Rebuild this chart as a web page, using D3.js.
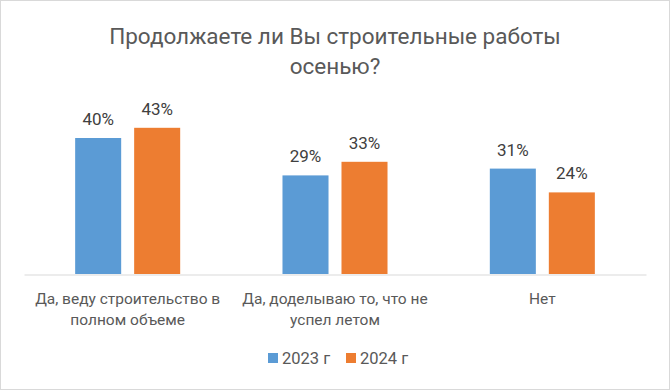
<!DOCTYPE html>
<html><head><meta charset="utf-8">
<script src="https://cdn.jsdelivr.net/npm/d3@7"></script>
<style>html,body{margin:0;padding:0;background:#fff;}svg{display:block;font-family:Roboto,"Open Sans",sans-serif;}</style>
</head><body><svg id="c" width="670" height="390"></svg>
<script>
const categories = ["Да, веду строительство в полном объеме", "Да, доделываю то, что не успел летом", "Нет"];
const categoryLines = [["Да, веду строительство в", "полном объеме"], ["Да, доделываю то, что не", "успел летом"], ["Нет"]];
const series = ["2023 г", "2024 г"];
const values2023 = [0.40, 0.29, 0.31];
const values2024 = [0.43, 0.33, 0.24];
const titleLines = ["Продолжаете ли Вы строительные работы", "осенью?"];
const colors = ["#5B9BD5", "#ED7D31"];

const svg = d3.select("#c");
svg.append("rect").attr("x",0.5).attr("y",0.5).attr("width",669).attr("height",389)
  .attr("fill","#fff").attr("stroke","#D9D9D9").attr("stroke-width",1);

const x0 = d3.scaleBand().domain(categories).range([24, 646]).paddingInner(0).paddingOuter(0);
const x1 = d3.scaleBand().domain(series).range([0, x0.bandwidth()]).paddingInner(0.22).paddingOuter(0.867);
const y = d3.scaleLinear().domain([0, 0.5]).range([274, 104]);
const vals = [values2023, values2024];

const g = svg.append("g");
series.forEach((s, si) => {
  g.selectAll(".b"+si).data(categories).enter().append("rect")
    .attr("x", d => x0(d) + x1(s))
    .attr("y", (d,i) => y(vals[si][i]))
    .attr("width", x1.bandwidth())
    .attr("height", (d,i) => y(0) - y(vals[si][i]))
    .attr("fill", colors[si]);
  g.selectAll(".l"+si).data(categories).enter().append("text")
    .attr("x", d => x0(d) + x1(s) + x1.bandwidth()/2)
    .attr("y", (d,i) => y(vals[si][i]) - 13)
    .attr("text-anchor","middle").attr("fill","#404040").attr("font-size",17)
    .text((d,i) => Math.round(vals[si][i]*100) + "%");
});

// axis baseline
const xAxis = d3.axisBottom(x0).tickSize(0).tickFormat("");
const ax = svg.append("g").attr("transform","translate(0,274.5)").call(xAxis);
ax.select(".domain").attr("stroke","#D9D9D9").attr("stroke-width",1.2);

// category labels
categories.forEach((c, i) => {
  const t = svg.append("text").attr("text-anchor","middle").attr("fill","#595959").attr("font-size",15.5);
  categoryLines[i].forEach((ln, k) => {
    t.append("tspan").attr("x", x0(c) + x0.bandwidth()/2).attr("y", 304 + k*21).text(ln);
  });
});

// title
const tt = svg.append("text").attr("text-anchor","middle").attr("fill","#595959").attr("font-size",22.5);
titleLines.forEach((ln,k) => tt.append("tspan").attr("x",335).attr("y",44 + k*30).text(ln));

// legend
const legend = svg.append("g");
const legX = [268, 346];
series.forEach((s, si) => {
  legend.append("rect").attr("x", legX[si]).attr("y", 353).attr("width", 10).attr("height", 10).attr("fill", colors[si]);
  legend.append("text").attr("x", legX[si] + 14).attr("y", 364).attr("fill","#595959").attr("font-size",16.5).text(s);
});
</script></body></html>
